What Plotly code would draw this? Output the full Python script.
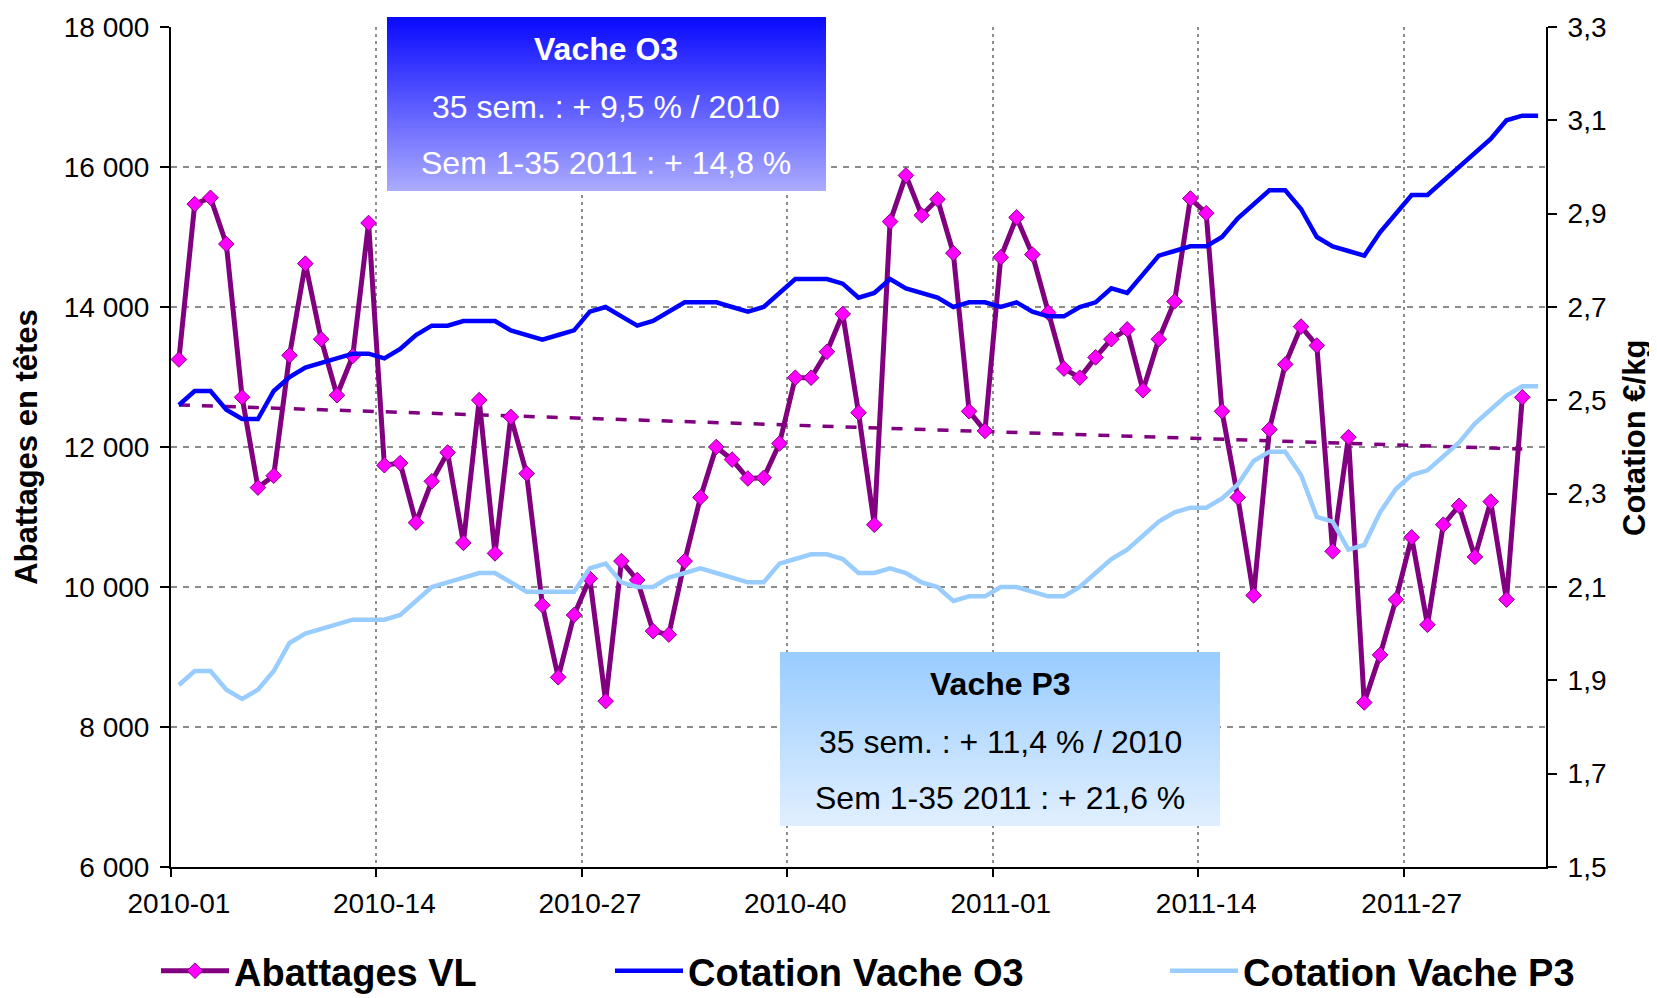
import plotly.graph_objects as go

# ---------------- data ----------------
weeks = [f"2010-{w:02d}" for w in range(1, 53)] + [f"2011-{w:02d}" for w in range(1, 36)]

abattages_vl = [
    13250, 15470, 15560, 14900, 12710, 11420, 11590, 13310, 14620, 13540,
    12740, 13300, 15200, 11740, 11770, 10920, 11510, 11920, 10630, 12670,
    10480, 12430, 11620, 9740, 8710, 9600, 10120, 8370, 10370, 10100,
    9370, 9320, 10370, 11280, 12000, 11820, 11550, 11560, 12050, 12990,
    12990, 13360, 13900, 12490, 10890, 15220, 15880, 15310, 15540, 14770,
    12510, 12230, 14710, 15280, 14750, 13920, 13120, 12990, 13280, 13540,
    13680, 12810, 13540, 14080, 15550, 15340, 12510, 11280, 9880, 12250,
    13180, 13720, 13450, 10510, 12140, 8350, 9030, 9820, 10710, 9460,
    10890, 11160, 10430, 11220, 9820, 12710,
]

cotation_o3 = [
    2.49, 2.52, 2.52, 2.48, 2.46, 2.46, 2.52, 2.55, 2.57, 2.58,
    2.59, 2.60, 2.60, 2.59, 2.61, 2.64, 2.66, 2.66, 2.67, 2.67,
    2.67, 2.65, 2.64, 2.63, 2.64, 2.65, 2.69, 2.70, 2.68, 2.66,
    2.67, 2.69, 2.71, 2.71, 2.71, 2.70, 2.69, 2.70, 2.73, 2.76,
    2.76, 2.76, 2.75, 2.72, 2.73, 2.76, 2.74, 2.73, 2.72, 2.70,
    2.71, 2.71, 2.70, 2.71, 2.69, 2.68, 2.68, 2.70, 2.71, 2.74,
    2.73, 2.77, 2.81, 2.82, 2.83, 2.83, 2.85, 2.89, 2.92, 2.95,
    2.95, 2.91, 2.85, 2.83, 2.82, 2.81, 2.86, 2.90, 2.94, 2.94,
    2.97, 3.00, 3.03, 3.06, 3.10, 3.11, 3.11,
]

cotation_p3 = [
    1.89, 1.92, 1.92, 1.88, 1.86, 1.88, 1.92, 1.98, 2.00, 2.01,
    2.02, 2.03, 2.03, 2.03, 2.04, 2.07, 2.10, 2.11, 2.12, 2.13,
    2.13, 2.11, 2.09, 2.09, 2.09, 2.09, 2.14, 2.15, 2.11, 2.10,
    2.10, 2.12, 2.13, 2.14, 2.13, 2.12, 2.11, 2.11, 2.15, 2.16,
    2.17, 2.17, 2.16, 2.13, 2.13, 2.14, 2.13, 2.11, 2.10, 2.07,
    2.08, 2.08, 2.10, 2.10, 2.09, 2.08, 2.08, 2.10, 2.13, 2.16,
    2.18, 2.21, 2.24, 2.26, 2.27, 2.27, 2.29, 2.32, 2.37, 2.39,
    2.39, 2.34, 2.25, 2.24, 2.18, 2.19, 2.26, 2.31, 2.34, 2.35,
    2.38, 2.41, 2.45, 2.48, 2.51, 2.53, 2.53,
]

# linear trendline of Abattages VL (value at first and at last week)
trend_abattages = [12600, 11970]

left_tickvals = [6000, 8000, 10000, 12000, 14000, 16000, 18000]
left_ticktext = ["6 000", "8 000", "10 000", "12 000", "14 000", "16 000", "18 000"]
right_tickvals = [1.5, 1.7, 1.9, 2.1, 2.3, 2.5, 2.7, 2.9, 3.1, 3.3]
right_ticktext = ["1,5", "1,7", "1,9", "2,1", "2,3", "2,5", "2,7", "2,9", "3,1", "3,3"]
label_step = 13

left_title = "Abattages en têtes"
right_title = "Cotation €/kg"
box_o3_lines = ["Vache O3", "35 sem. : + 9,5 % / 2010", "Sem 1-35 2011 : + 14,8 %"]
box_p3_lines = ["Vache P3", "35 sem. : + 11,4 % / 2010", "Sem 1-35 2011 : + 21,6 %"]

# ---------------- layout geometry (page pixels) ----------------
PAGE_W, PAGE_H = 1657, 998
OFF = 8                      # default body margin of the html page
FIG_W, FIG_H = PAGE_W - OFF, PAGE_H - OFF
L, R, T, B = 171, 1546, 27, 867
PW, PH = R - L, B - T
FONT = "Liberation Sans, Arial, sans-serif"


def xp(px):
    return (px - L) / PW


def yp(py):
    return (B - py) / PH


idx = list(range(len(weeks)))
x_ab = idx[:len(abattages_vl)]
tick_idx = idx[::label_step]
tick_lbl = weeks[::label_step]
bound_idx = [i - 0.5 for i in tick_idx]

fig = go.Figure()

fig.add_trace(go.Scatter(
    x=[x_ab[0], x_ab[-1]], y=trend_abattages, mode="lines",
    line=dict(color="#800080", width=3.5, dash="11px,12px"),
    showlegend=False, hoverinfo="skip", yaxis="y",
))
fig.add_trace(go.Scatter(
    x=x_ab, y=abattages_vl, name="Abattages VL", mode="lines+markers",
    line=dict(color="#800080", width=5),
    marker=dict(symbol="diamond", size=12, color="#FF00FF",
                line=dict(color="#800080", width=1)),
    text=weeks[:len(abattages_vl)], yaxis="y", legend="legend",
))
fig.add_trace(go.Scatter(
    x=idx, y=cotation_o3, name="Cotation Vache O3", mode="lines",
    line=dict(color="#0000FF", width=4.5), text=weeks,
    yaxis="y2", legend="legend2",
))
fig.add_trace(go.Scatter(
    x=idx, y=cotation_p3, name="Cotation Vache P3", mode="lines",
    line=dict(color="#99CCFF", width=4.5), text=weeks,
    yaxis="y2", legend="legend3",
))

# ---------------- gradient boxes ----------------
shapes = []


def gradient_box(x0, x1, y0, y1, c_top, c_bot, n=60):
    h = (y1 - y0) / n
    for k in range(n):
        f = k / (n - 1)
        col = tuple(round(c_top[j] + (c_bot[j] - c_top[j]) * f) for j in range(3))
        top = y0 + k * h
        bot = min(y1, top + h + 1)
        shapes.append(dict(
            type="rect", xref="paper", yref="paper",
            x0=xp(x0), x1=xp(x1), y0=yp(bot), y1=yp(top),
            fillcolor="rgb(%d,%d,%d)" % col, line=dict(width=0), layer="above",
        ))


gradient_box(387, 826, 17, 191, (10, 10, 255), (170, 170, 255))
gradient_box(780, 1220, 652, 826, (153, 204, 255), (224, 239, 255))

annotations = []


def box_text(cx, ys, lines, color):
    for i, (yy, t) in enumerate(zip(ys, lines)):
        annotations.append(dict(
            xref="paper", yref="paper", x=xp(cx), y=yp(yy),
            xanchor="center", yanchor="middle", showarrow=False,
            text=t, font=dict(family=FONT, size=32, color=color,
                              weight="bold" if i == 0 else "normal"),
        ))


box_text(606, [49, 107, 163], box_o3_lines, "white")
box_text(1000, [684, 742, 798], box_p3_lines, "black")

# right axis title (placed as rotated text next to the secondary axis)
annotations.append(dict(
    xref="paper", yref="paper", x=xp(1634), y=yp(438),
    xanchor="center", yanchor="middle", showarrow=False, textangle=-90,
    text=right_title,
    font=dict(family=FONT, size=31, color="black", weight="bold"),
))

# ---------------- axes ----------------
tickfont = dict(family=FONT, size=28, color="black")
legend_common = dict(
    orientation="h", xanchor="left", yanchor="middle", y=yp(971),
    font=dict(family=FONT, size=38, color="black", weight="bold"),
    bgcolor="rgba(0,0,0,0)", itemwidth=68, borderwidth=0,
)

fig.update_layout(
    width=FIG_W, height=FIG_H,
    margin=dict(l=L - OFF, r=FIG_W - (R - OFF), t=T - OFF, b=FIG_H - (B - OFF),
                autoexpand=False),
    paper_bgcolor="white", plot_bgcolor="white",
    shapes=shapes, annotations=annotations,
    xaxis=dict(
        range=[-0.5, len(weeks) - 0.5], tickmode="array",
        tickvals=tick_idx, ticktext=tick_lbl, tickfont=tickfont,
        ticks="outside", ticklen=8, tickcolor="rgba(0,0,0,0)",
        ticklabelstandoff=2,
        showgrid=False, zeroline=False,
        showline=True, linecolor="black", linewidth=2,
        minor=dict(tickmode="array", tickvals=bound_idx, ticks="outside",
                   ticklen=8, tickwidth=2, tickcolor="black",
                   showgrid=True, gridcolor="#8C8C8C", gridwidth=2,
                   griddash="3px,4px"),
    ),
    yaxis=dict(
        range=[6000, 18000], tickmode="array",
        tickvals=left_tickvals, ticktext=left_ticktext, tickfont=tickfont,
        ticks="outside", ticklen=9, tickwidth=2, tickcolor="black",
        ticklabelstandoff=5,
        showgrid=True, gridcolor="#8C8C8C", gridwidth=1.5, griddash="6px,6px",
        zeroline=False, showline=True, linecolor="black", linewidth=2,
        title=dict(text=left_title, standoff=17,
                   font=dict(family=FONT, size=31, color="black", weight="bold")),
    ),
    yaxis2=dict(
        range=[1.5, 3.3], overlaying="y", side="right", tickmode="array",
        tickvals=right_tickvals, ticktext=right_ticktext, tickfont=tickfont,
        ticks="outside", ticklen=9, tickwidth=2, tickcolor="black",
        ticklabelstandoff=5,
        showgrid=False, zeroline=False,
        showline=True, linecolor="black", linewidth=2,
    ),
    legend=dict(x=xp(236 - 80), **legend_common),
    legend2=dict(x=xp(690 - 80), **legend_common),
    legend3=dict(x=xp(1245 - 80), **legend_common),
    showlegend=True,
)

fig.write_html("out.html")
